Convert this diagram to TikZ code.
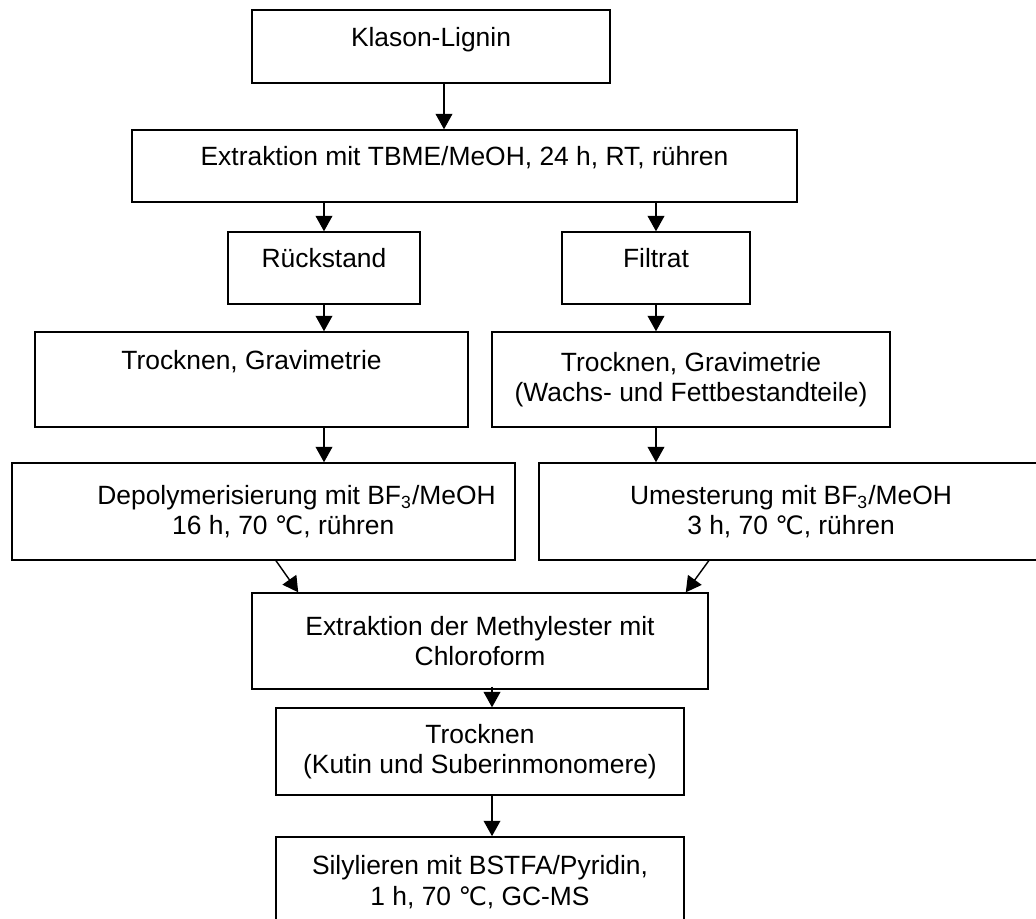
\documentclass[tikz,border=0pt]{standalone}
\usepackage{fontspec}
\setmainfont{Liberation Sans}
\newfontfamily\degfont{DejaVu Sans}
\usetikzlibrary{arrows.meta,calc}
\newcommand{\degC}{{\degfont\fontsize{11.5pt}{12pt}\selectfont ℃}}

\begin{document}
\begin{tikzpicture}[x=0.4545pt, y=-0.4545pt,
  stepbox/.style={rectangle, draw, line width=0.65pt, inner sep=0pt, align=center,
                  font=\fontsize{12pt}{13.8pt}\selectfont},
  oneline/.style={text height=4pt, text depth=4pt},
  arrow/.style={-{Triangle[width=7.6pt,length=7pt]}, line width=0.65pt}
]
  \useasboundingbox (0,0) rectangle (1036,919);

  \node[stepbox, oneline, minimum width=162.7pt, minimum height=33.2pt] (kl) at (431,46.5) {Klason-Lignin};
  \node[stepbox, oneline, minimum width=302.2pt, minimum height=32.7pt] (ex) at (464.5,166) {Extraktion mit TBME/MeOH, 24 h, RT, rühren};
  \node[stepbox, oneline, minimum width=87.3pt, minimum height=32.7pt] (rs) at (324,268) {Rückstand};
  \node[stepbox, oneline, minimum width=85.4pt, minimum height=32.7pt] (fi) at (656,268) {Filtrat};
  \node[stepbox, text height=4pt, text depth=13pt, minimum width=196.8pt, minimum height=43.2pt] (tl) at (251.5,379.5) {Trocknen, Gravimetrie};
  \node[stepbox, minimum width=180.9pt, minimum height=43.2pt] (tr) at (691,379.5) {Trocknen, Gravimetrie\\(Wachs- und Fettbestandteile)};
  \node[stepbox, minimum width=228.6pt, minimum height=44.1pt] (dp) at (263.5,511.5)
    {\hspace*{30pt}Depolymerisierung mit BF\textsubscript{3}/MeOH\\\hspace*{18pt}16 h, 70 \degC, rühren};
  \node[stepbox, minimum width=229.1pt, minimum height=44.1pt] (um) at (791,511.5)
    {Umesterung mit BF\textsubscript{3}/MeOH\\3 h, 70 \degC, rühren};
  \node[stepbox, minimum width=207.3pt, minimum height=43.6pt] (me) at (480,641) {Extraktion der Methylester mit\\Chloroform};
  \node[stepbox, minimum width=185.4pt, minimum height=39.5pt] (ku) at (480,751.5) {Trocknen\\(Kutin und Suberinmonomere)};
  \node[stepbox, minimum width=185.4pt, minimum height=41pt] (si) at (480,882) {Silylieren mit BSTFA/Pyridin,\\1 h, 70 \degC, GC-MS};

  \draw[arrow] ($(kl.south)+(13,0)$) -- ($(ex.north)+(-20.5,0)$);
  \draw[arrow] (ex.south -| rs.north) -- (rs.north);
  \draw[arrow] (ex.south -| fi.north) -- (fi.north);
  \draw[arrow] (rs.south) -- (rs.south |- tl.north);
  \draw[arrow] (fi.south) -- (fi.south |- tr.north);
  \draw[arrow] (tl.south -| rs.south) -- (dp.north -| rs.south);
  \draw[arrow] (tr.south -| fi.south) -- (um.north -| fi.south);
  \draw[arrow] ($(dp.south)+(12.5,0)$) -- ($(me.north west)+(47,0)$);
  \draw[arrow] (um.south -| me.east) -- ($(me.north east)+(-23,0)$);
  \draw[arrow] ($(me.south)+(12,-3)$) -- ($(ku.north)+(12,0)$);
  \draw[arrow] ($(ku.south)+(12,0)$) -- ($(si.north)+(12,0)$);
\end{tikzpicture}
\end{document}
